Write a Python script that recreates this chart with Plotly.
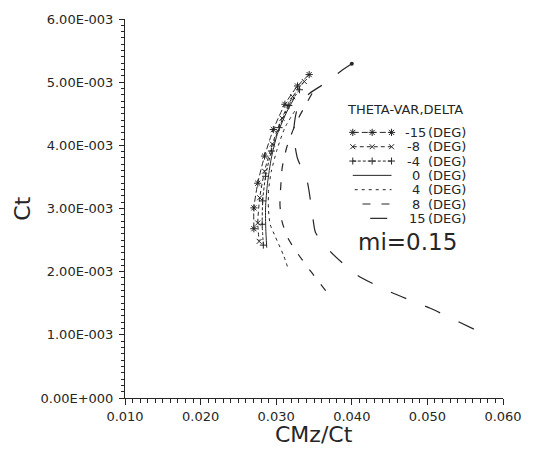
import plotly.graph_objects as go

# ---- data ----
labels_num = ["-15", "-8", "-4", "0", "4", "8", "15"]

x_m15 = [0.03436, 0.03282, 0.03115, 0.02962, 0.02846, 0.02756, 0.02705, 0.02705]
y_m15 = [5.12e-3, 4.94e-3, 4.65e-3, 4.25e-3, 3.83e-3, 3.40e-3, 3.01e-3, 2.68e-3]

x_m8 = [0.03372, 0.03218, 0.03077, 0.02949, 0.02846, 0.02782, 0.02756, 0.02775]
y_m8 = [5.01e-3, 4.77e-3, 4.43e-3, 4.02e-3, 3.59e-3, 3.17e-3, 2.77e-3, 2.48e-3]

x_m4 = [0.03308, 0.03167, 0.03038, 0.02936, 0.02859, 0.02821, 0.02815, 0.02830]
y_m4 = [4.88e-3, 4.63e-3, 4.28e-3, 3.91e-3, 3.51e-3, 3.12e-3, 2.75e-3, 2.42e-3]

x_0 = [0.03244, 0.03128, 0.03013, 0.02936, 0.02885, 0.02859, 0.02862, 0.02875]
y_0 = [4.76e-3, 4.50e-3, 4.17e-3, 3.80e-3, 3.40e-3, 3.01e-3, 2.68e-3, 2.38e-3]

x_4 = [0.03244, 0.03115, 0.03013, 0.02936, 0.02900, 0.02897, 0.02920, 0.02990, 0.03100, 0.03154]
y_4 = [4.54e-3, 4.28e-3, 3.94e-3, 3.59e-3, 3.30e-3, 3.00e-3, 2.75e-3, 2.55e-3, 2.25e-3, 2.06e-3]

x_8 = [0.03474, 0.03260, 0.03140, 0.03080, 0.03060, 0.03050, 0.03080, 0.03160, 0.03300, 0.03460, 0.03654]
y_8 = [4.82e-3, 4.35e-3, 3.97e-3, 3.65e-3, 3.35e-3, 3.05e-3, 2.78e-3, 2.52e-3, 2.26e-3, 2.00e-3, 1.70e-3]

x_15 = [0.04000, 0.03850, 0.03670, 0.03440, 0.03280, 0.03230, 0.03280, 0.03410, 0.03480, 0.03520, 0.03731, 0.04077, 0.04526, 0.05038, 0.05615]
y_15 = [5.29e-3, 5.17e-3, 5.00e-3, 4.82e-3, 4.58e-3, 4.20e-3, 3.80e-3, 3.43e-3, 2.90e-3, 2.62e-3, 2.30e-3, 1.94e-3, 1.67e-3, 1.42e-3, 1.09e-3]

y_ticks = [0, 1e-3, 2e-3, 3e-3, 4e-3, 5e-3, 6e-3]
y_ticktext = ["0.00E+000", "1.00E-003", "2.00E-003", "3.00E-003", "4.00E-003", "5.00E-003", "6.00E-003"]
x_ticks = [0.010, 0.020, 0.030, 0.040, 0.050, 0.060]
x_ticktext = ["0.010", "0.020", "0.030", "0.040", "0.050", "0.060"]

INK = "#262626"
FONT = "DejaVu Sans"

styles = [
    (dict(dash="6px,3px", width=1), dict(symbol="asterisk-open", size=6)),
    (dict(dash="4px,3px", width=1), dict(symbol="x-thin-open", size=5)),
    (dict(dash="3px,2px", width=1), dict(symbol="cross-thin-open", size=5)),
    (dict(dash="solid", width=1), None),
    (dict(dash="3px,4px", width=1), None),
    (dict(dash="8px,11px", width=1.2), None),
    (dict(dash="17px,20px", width=1.2), None),
]
data = [(x_m15, y_m15), (x_m8, y_m8), (x_m4, y_m4), (x_0, y_0), (x_4, y_4), (x_8, y_8), (x_15, y_15)]

fig = go.Figure()
for (xs, ys), (line, marker), num in zip(data, styles, labels_num):
    kw = dict(x=xs, y=ys, mode="lines+markers" if marker else "lines", name=num + "(DEG)",
              line=dict(color=INK, shape="spline", smoothing=0.6, **line), showlegend=False)
    if marker:
        kw["marker"] = dict(color=INK, line=dict(color=INK, width=1), **marker)
    fig.add_trace(go.Scatter(**kw))

# end dot at the start of the 15 deg curve (as in the plotter output)
fig.add_trace(go.Scatter(x=x_15[:1], y=y_15[:1], mode="markers", showlegend=False,
                         marker=dict(color=INK, size=4, symbol="circle")))

# ---- hand-drawn style legend (overlay axes in plot-pixel units) ----
leg_title_y = 108
row_y0, row_dy = 131, 14.4
sample_x = [(360, 400), (360, 400), (360, 400), (360, 400), (362, 400), (370, 400), (378, 400)]
LF = 13
for i, ((line, marker), num) in enumerate(zip(styles, labels_num)):
    yy = row_y0 + i * row_dy
    x0, x1 = sample_x[i]
    xs = [x0, (x0 + x1) / 2, x1] if marker else [x0, x1]
    kw = dict(x=xs, y=[yy] * len(xs), xaxis="x2", yaxis="y2", showlegend=False,
              mode="lines+markers" if marker else "lines", hoverinfo="skip",
              line=dict(color=INK, **line))
    if marker:
        kw["marker"] = dict(color=INK, line=dict(color=INK, width=1), **marker)
    fig.add_trace(go.Scatter(**kw))
    two = len(num.lstrip("-")) == 2
    fig.add_annotation(xref="x2", yref="y2", x=437 if two else 430, y=yy, text=num,
                       xanchor="right", yanchor="middle", showarrow=False, borderpad=0,
                       font=dict(family=FONT, size=LF, color=INK))
    fig.add_annotation(xref="x2", yref="y2", x=437, y=yy, text="(DEG)",
                       xanchor="left", yanchor="middle", showarrow=False, borderpad=0,
                       font=dict(family=FONT, size=LF, color=INK))

fig.add_annotation(xref="x2", yref="y2", x=353, y=leg_title_y, text="THETA-VAR,DELTA",
                   xanchor="left", yanchor="middle", showarrow=False, borderpad=0,
                   font=dict(family=FONT, size=LF, color=INK))
fig.add_annotation(xref="x2", yref="y2", x=416, y=241, text="mi=0.15",
                   xanchor="center", yanchor="middle",
                   showarrow=False, font=dict(family=FONT, size=23, color=INK))

# axis titles (paper coordinates)
fig.add_annotation(xref="paper", yref="paper", x=0.5, y=-0.097, text="CMz/Ct",
                   xanchor="center", yanchor="middle",
                   showarrow=False, font=dict(family=FONT, size=22, color=INK))
fig.add_annotation(xref="paper", yref="paper", x=-0.272, y=0.50, text="Ct", textangle=-90,
                   xanchor="center", yanchor="middle",
                   showarrow=False, font=dict(family=FONT, size=22, color=INK))

fig.update_layout(
    width=534, height=449,
    margin=dict(l=125, r=19, t=17, b=51),
    paper_bgcolor="white", plot_bgcolor="white",
    font=dict(family=FONT, size=13, color=INK),
    showlegend=False,
    xaxis=dict(
        range=[0.010, 0.060], tickvals=x_ticks, ticktext=x_ticktext,
        showgrid=False, zeroline=False, showline=True, linecolor=INK, linewidth=1,
        ticks="outside", ticklen=6, tickcolor=INK, tickwidth=1,
        minor=dict(dtick=0.001, ticks="outside", ticklen=4, tickcolor=INK),
        tickfont=dict(family=FONT, size=13, color=INK),
    ),
    yaxis=dict(
        range=[0, 6e-3], tickvals=y_ticks, ticktext=y_ticktext,
        showgrid=False, zeroline=False, showline=True, linecolor=INK, linewidth=1,
        ticks="outside", ticklen=5, tickcolor=INK, tickwidth=1,
        minor=dict(dtick=0.0001, ticks="outside", ticklen=3, tickcolor=INK),
        tickfont=dict(family=FONT, size=13, color=INK),
        ticklabelstandoff=3,
    ),
    xaxis2=dict(overlaying="x", range=[125, 515], visible=False, anchor="y2"),
    yaxis2=dict(overlaying="y", range=[398, 17], visible=False, anchor="x2"),
)

fig.write_html("out.html")
